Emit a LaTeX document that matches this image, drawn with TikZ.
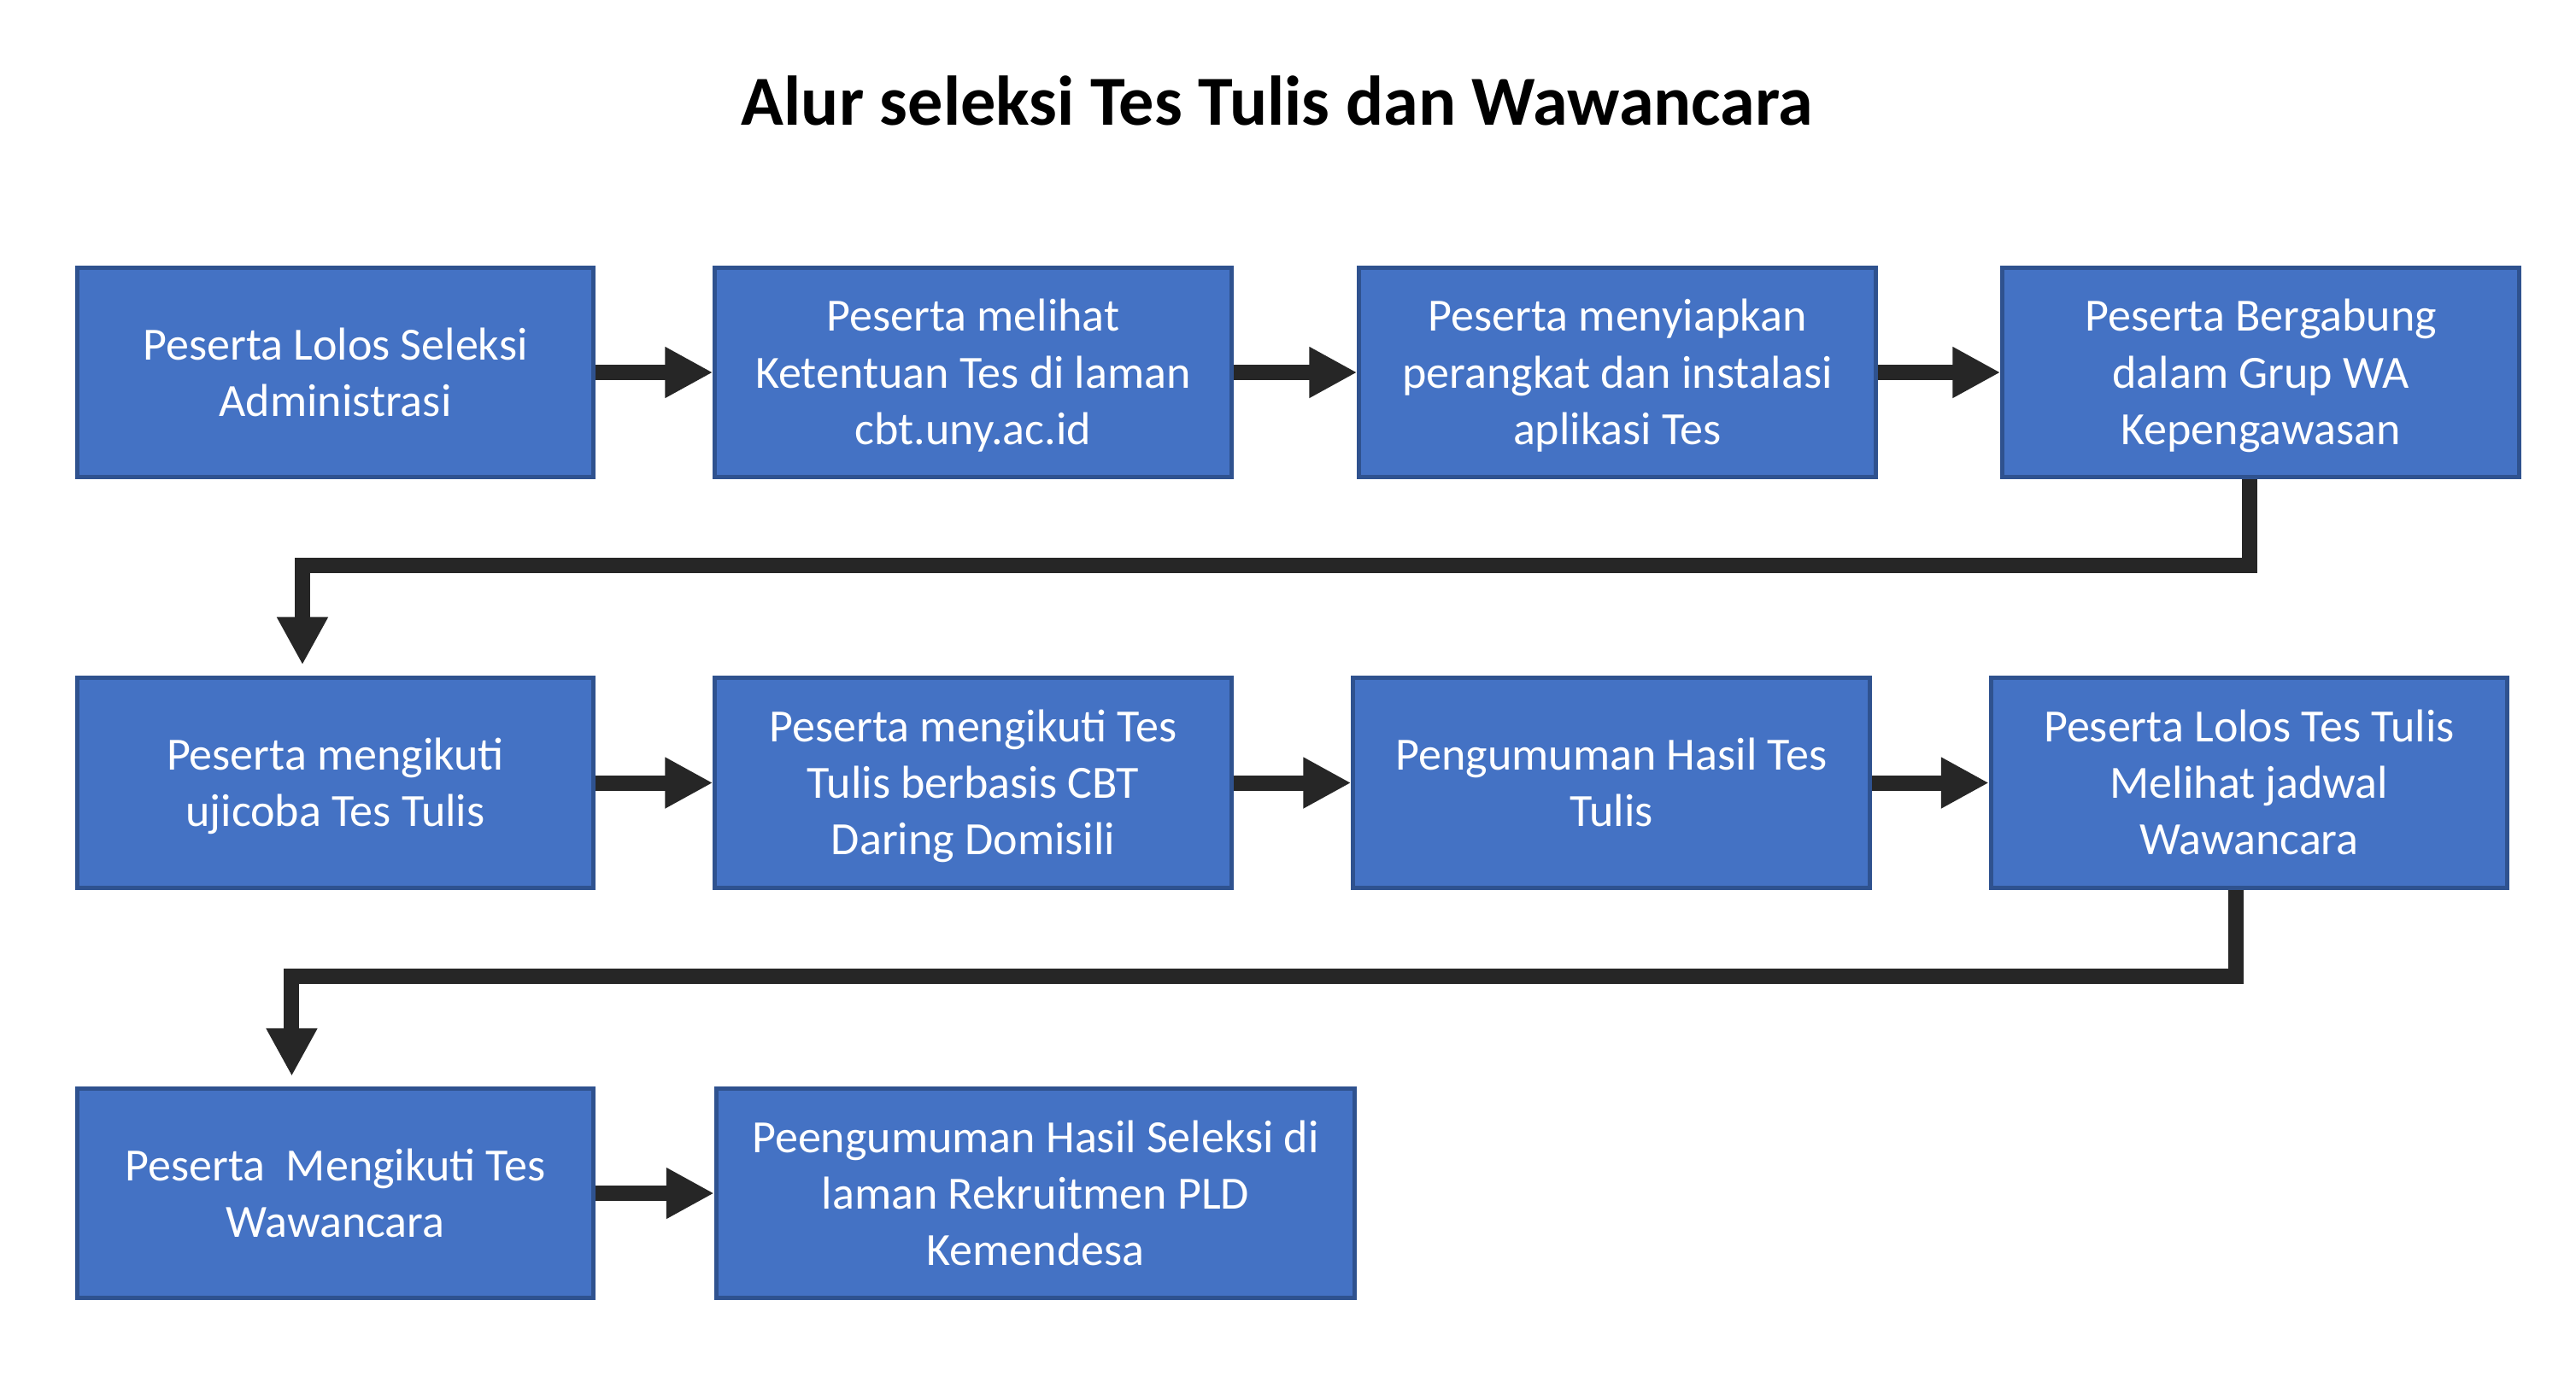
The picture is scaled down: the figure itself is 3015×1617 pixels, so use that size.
\documentclass[tikz,border=0pt]{standalone}
\usepackage{fontspec}
\setmainfont{Carlito}
\usetikzlibrary{arrows.meta}
\definecolor{boxfill}{HTML}{4472C4}
\definecolor{boxline}{HTML}{2F528F}
\definecolor{conncol}{HTML}{262626}
\newcommand{\st}{\rule[-0.15cm]{0pt}{0.66cm}}
\begin{document}
\begin{tikzpicture}[x=0.01cm,y=-0.01cm,
  box/.style={draw=boxline,fill=boxfill,line width=0.05cm,minimum width=6.04cm,minimum height=2.45cm,
    inner sep=0pt,outer sep=0.025cm,align=center,text=white,font=\fontsize{15.37pt}{18.78pt}\selectfont},
  conn/.style={draw=conncol,line width=0.18cm,line join=miter,-{Triangle[length=0.56cm,width=0.56cm]}},
  title/.style={font=\fontsize{23.4pt}{28pt}\selectfont\bfseries,anchor=base}]
\fill[white] (0,0) rectangle (3015,1617);
\useasboundingbox (0,0) rectangle (3015,1617);
\node[title] (t) at (1495,146) {Alur seleksi Tes Tulis dan Wawancara};
% row 1
\node[box] (b1) at (392.5,436) {\st Peserta Lolos Seleksi\\\st Administrasi};
\node[box] (b2) at (1139,436) {\st Peserta melihat\\\st Ketentuan Tes di laman\\\st cbt.uny.ac.id};
\node[box] (b3) at (1893,436) {\st Peserta menyiapkan\\\st perangkat dan instalasi\\\st aplikasi Tes};
\node[box] (b4) at (2646,436) {\st Peserta Bergabung\\\st dalam Grup WA\\\st Kepengawasan};
% row 2
\node[box] (b5) at (392.5,916.5) {\st Peserta mengikuti\\\st ujicoba Tes Tulis};
\node[box] (b6) at (1139,916.5) {\st Peserta mengikuti Tes\\\st Tulis berbasis CBT\\\st Daring Domisili};
\node[box] (b7) at (1886,916.5) {\st Pengumuman Hasil Tes\\\st Tulis};
\node[box] (b8) at (2632.5,916.5) {\st Peserta Lolos Tes Tulis\\\st Melihat jadwal\\\st Wawancara};
% row 3
\node[box] (b9) at (392.5,1397) {\st Peserta\ \ Mengikuti Tes\\\st Wawancara};
\node[box,minimum width=7.47cm] (b10) at (1212,1397) {\st Peengumuman Hasil Seleksi di\\\st laman Rekruitmen PLD\\\st Kemendesa};
% connectors
\draw[conn] (b1.east) -- (b2.west);
\draw[conn] (b2.east) -- (b3.west);
\draw[conn] (b3.east) -- (b4.west);
\draw[conn] ([xshift=-0.13cm]b4.south) |- ([xshift=-0.385cm,yshift=1.29cm]b5.north) -- ([xshift=-0.385cm,yshift=0.13cm]b5.north);
\draw[conn] (b5.east) -- (b6.west);
\draw[conn] (b6.east) -- (b7.west);
\draw[conn] (b7.east) -- (b8.west);
\draw[conn] ([xshift=-0.155cm]b8.south) |- ([xshift=-0.51cm,yshift=1.285cm]b9.north) -- ([xshift=-0.51cm,yshift=0.12cm]b9.north);
\draw[conn] (b9.east) -- (b10.west);
\end{tikzpicture}
\end{document}
